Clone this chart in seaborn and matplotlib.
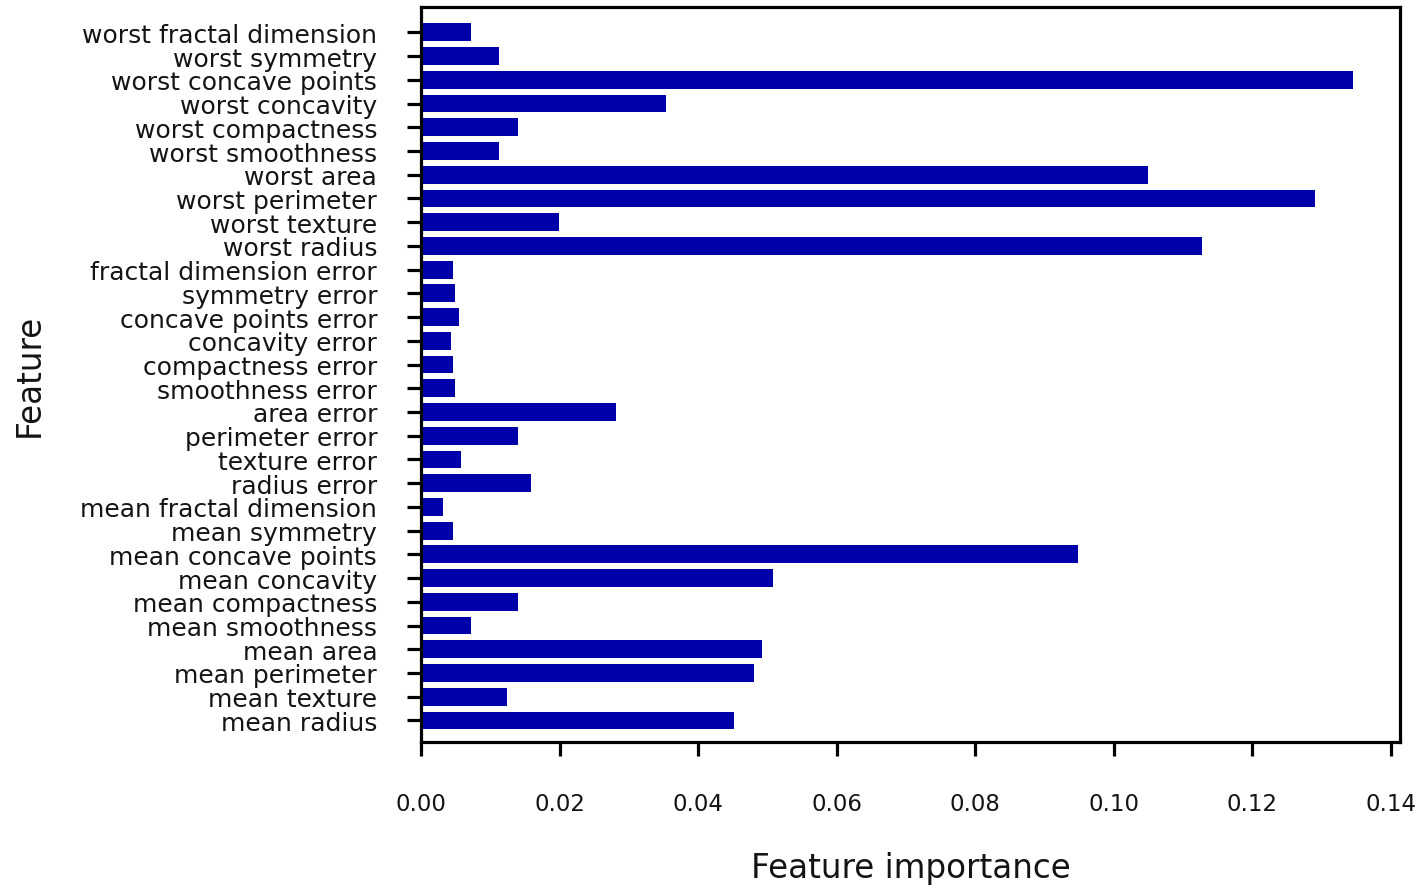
import matplotlib
matplotlib.use("Agg")
import matplotlib.pyplot as plt
import seaborn as sns
import pandas as pd
from matplotlib.ticker import FormatStrFormatter

# Breast-cancer features, in dataset order (bottom to top on the chart)
features = [
    "mean radius", "mean texture", "mean perimeter", "mean area",
    "mean smoothness", "mean compactness", "mean concavity",
    "mean concave points", "mean symmetry", "mean fractal dimension",
    "radius error", "texture error", "perimeter error", "area error",
    "smoothness error", "compactness error", "concavity error",
    "concave points error", "symmetry error", "fractal dimension error",
    "worst radius", "worst texture", "worst perimeter", "worst area",
    "worst smoothness", "worst compactness", "worst concavity",
    "worst concave points", "worst symmetry", "worst fractal dimension",
]

importances = [
    0.0452, 0.0124, 0.0481, 0.0492,
    0.0072, 0.0140, 0.0508,
    0.0949, 0.0046, 0.0032,
    0.0159, 0.0058, 0.0140, 0.0282,
    0.0049, 0.0046, 0.0043,
    0.0055, 0.0049, 0.0046,
    0.1128, 0.0199, 0.1291, 0.1050,
    0.0113, 0.0140, 0.0354,
    0.1346, 0.0113, 0.0072,
]

x_ticks = [0.00, 0.02, 0.04, 0.06, 0.08, 0.10, 0.12, 0.14]

sns.set_style("ticks")
plt.rcParams["font.family"] = ["DejaVu Sans"]
plt.rcParams["axes.edgecolor"] = "black"
plt.rcParams["xtick.color"] = "black"
plt.rcParams["ytick.color"] = "black"
plt.rcParams["text.color"] = "#141414"
plt.rcParams["axes.labelcolor"] = "#141414"

fig = plt.figure(figsize=(14.21, 8.87), dpi=100)
ax = fig.add_axes([0.29627, 0.16234, 0.68895, 0.82864])

df = pd.DataFrame({"feature": features, "importance": importances})
sns.barplot(
    data=df, x="importance", y="feature", order=features[::-1],
    color="#0000a8", saturation=1, width=0.75, linewidth=0, ax=ax,
)

ax.set_xlim(0, max(importances) * 1.05)
ax.set_ylim(len(features) - 1 + 0.91, -1.07)
ax.set_xticks(x_ticks)
ax.xaxis.set_major_formatter(FormatStrFormatter("%.2f"))

for side in ["top", "right", "bottom", "left"]:
    ax.spines[side].set_visible(True)
    ax.spines[side].set_linewidth(2.3)

ax.tick_params(axis="both", which="major", length=10, width=2.3,
               direction="out")
ax.tick_params(axis="x", pad=26, labelsize=16.5, labelcolor="#141414")
ax.tick_params(axis="y", pad=21.5, labelsize=18, labelcolor="#141414")

ax.set_xlabel("Feature importance", fontsize=23.5, labelpad=26)
ax.set_ylabel("Feature", fontsize=23.5, labelpad=25)

fig.savefig("out.png", dpi=100)
